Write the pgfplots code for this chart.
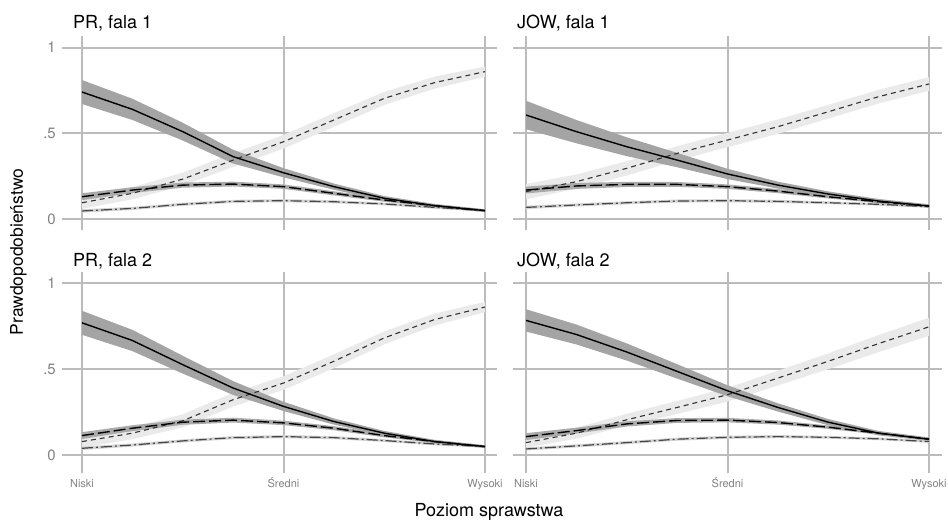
\documentclass[border=0pt]{standalone}
\usepackage{fontspec}
\setmainfont{TeX Gyre Heros}
\usepackage{pgfplots}
\pgfplotsset{compat=1.18}
\usepackage{pgfplotstable}
\usepgfplotslibrary{fillbetween}

\definecolor{gridc}{RGB}{188,188,188}
\definecolor{bandS}{RGB}{164,164,164}
\definecolor{bandD}{RGB}{234,234,234}
\definecolor{bandL}{RGB}{170,170,170}
\definecolor{bandC}{RGB}{212,212,212}
\definecolor{lineD}{RGB}{50,50,50}
\definecolor{lineC}{RGB}{70,70,70}
\definecolor{tickc}{RGB}{130,130,130}

% PR, fala 1
\pgfplotstableread{
x    s    sl   su   d    dl   du   l    ll   lu   c    cl   cu
0    .741 .671 .811 .095 .060 .130 .130 .110 .150 .047 .037 .057
0.25 .640 .578 .702 .150 .115 .185 .169 .152 .186 .062 .053 .071
0.5  .510 .458 .562 .233 .195 .271 .198 .183 .213 .086 .077 .095
0.75 .364 .324 .404 .344 .304 .384 .204 .190 .218 .103 .094 .112
1    .270 .243 .297 .451 .411 .491 .189 .176 .202 .107 .098 .116
1.25 .189 .171 .207 .578 .538 .618 .150 .138 .162 .101 .092 .110
1.5  .121 .108 .134 .704 .666 .742 .111 .101 .121 .088 .080 .096
1.75 .078 .068 .088 .796 .761 .831 .078 .070 .086 .068 .060 .076
2    .049 .041 .057 .860 .830 .890 .049 .042 .056 .049 .042 .056
}\prA
% JOW, fala 1
\pgfplotstableread{
x    s    sl   su   d    dl   du   l    ll   lu   c    cl   cu
0    .607 .524 .690 .160 .115 .205 .169 .149 .189 .068 .058 .078
0.25 .510 .442 .578 .218 .176 .260 .193 .176 .210 .082 .073 .091
0.5  .422 .367 .477 .296 .254 .338 .202 .187 .217 .095 .086 .104
0.75 .344 .302 .386 .383 .341 .425 .202 .188 .216 .105 .096 .114
1    .263 .233 .293 .461 .419 .503 .189 .176 .202 .107 .098 .116
1.25 .198 .178 .218 .539 .497 .581 .163 .151 .175 .103 .094 .112
1.5  .146 .131 .161 .626 .586 .666 .130 .120 .140 .095 .087 .103
1.75 .105 .093 .117 .714 .674 .754 .101 .093 .109 .086 .078 .094
2    .076 .066 .086 .788 .748 .828 .076 .069 .083 .072 .065 .079
}\jowA
% PR, fala 2
\pgfplotstableread{
x    s    sl   su   d    dl   du   l    ll   lu   c    cl   cu
0    .770 .700 .840 .078 .043 .113 .113 .093 .133 .039 .029 .049
0.25 .667 .605 .729 .127 .092 .162 .156 .139 .173 .058 .049 .067
0.5  .526 .474 .578 .199 .161 .237 .191 .176 .206 .082 .073 .091
0.75 .390 .350 .430 .322 .282 .362 .203 .189 .217 .101 .092 .110
1    .283 .256 .310 .419 .379 .459 .187 .174 .200 .107 .098 .116
1.25 .195 .177 .213 .546 .506 .586 .156 .144 .168 .101 .092 .110
1.5  .127 .114 .140 .682 .644 .720 .113 .103 .123 .084 .076 .092
1.75 .078 .068 .088 .789 .754 .824 .078 .070 .086 .064 .056 .072
2    .049 .041 .057 .862 .832 .892 .049 .042 .056 .049 .042 .056
}\prB
% JOW, fala 2
\pgfplotstableread{
x    s    sl   su   d    dl   du   l    ll   lu   c    cl   cu
0    .784 .719 .849 .072 .042 .102 .107 .087 .127 .035 .026 .044
0.25 .702 .644 .760 .127 .095 .159 .142 .125 .159 .053 .044 .062
0.5  .600 .550 .650 .205 .170 .240 .181 .166 .196 .072 .063 .081
0.75 .487 .445 .529 .277 .239 .315 .201 .187 .215 .092 .083 .101
1    .374 .342 .406 .351 .311 .391 .203 .190 .216 .103 .094 .112
1.25 .277 .253 .301 .448 .405 .491 .189 .177 .201 .107 .098 .116
1.5  .191 .173 .209 .546 .500 .592 .162 .152 .172 .103 .095 .111
1.75 .127 .114 .140 .649 .599 .699 .127 .119 .135 .094 .086 .102
2    .092 .082 .102 .747 .694 .800 .092 .085 .099 .078 .071 .085
}\jowB

\newcommand\drawpanel[2]{%
  \addplot[name path=du#2, draw=none] table[x=x,y=du]{#1};
  \addplot[name path=dl#2, draw=none] table[x=x,y=dl]{#1};
  \addplot[bandD, draw=none] fill between[of=du#2 and dl#2];
  \addplot[name path=cu#2, draw=none] table[x=x,y=cu]{#1};
  \addplot[name path=cl#2, draw=none] table[x=x,y=cl]{#1};
  \addplot[bandC, draw=none] fill between[of=cu#2 and cl#2];
  \addplot[name path=lu#2, draw=none] table[x=x,y=lu]{#1};
  \addplot[name path=ll#2, draw=none] table[x=x,y=ll]{#1};
  \addplot[bandL, draw=none] fill between[of=lu#2 and ll#2];
  \addplot[name path=su#2, draw=none] table[x=x,y=su]{#1};
  \addplot[name path=sl#2, draw=none] table[x=x,y=sl]{#1};
  \addplot[bandS, draw=none] fill between[of=su#2 and sl#2];
  \addplot[lineD, line width=1.1pt, dash pattern=on 5pt off 4pt] table[x=x,y=d]{#1};
  \addplot[lineC, line width=1.2pt, dash pattern=on 11pt off 3pt on 2pt off 3pt] table[x=x,y=c]{#1};
  \addplot[black, line width=1.4pt, dash pattern=on 12pt off 4pt] table[x=x,y=l]{#1};
  \addplot[black, line width=1.4pt] table[x=x,y=s]{#1};
}

\pgfplotsset{
  panel/.style={
    scale only axis,
    no markers,
    xtick={0,1,2}, ytick={0,0.5,1},
    grid=major,
    grid style={gridc, line width=2pt},
    axis line style={draw=none},
    major tick length=0pt,
    tick style={draw=none},
    /pgf/number format/assume math mode=true,
    yticklabel style={font=\fontsize{15}{15}\selectfont, text=tickc, inner sep=0pt, xshift=-6pt},
    xticklabel style={font=\fontsize{11}{11}\selectfont, text=tickc, inner sep=0pt, text height=8pt, text depth=0pt, anchor=north, yshift=-6pt},
  },
  leftp/.style={width=435pt, xmin=-0.0993, xmax=2.0596, yticklabels={0,.5,1}},
  rightp/.style={width=429pt, xmin=-0.0645, xmax=2.0645, yticklabels={}},
  topp/.style={height=194pt, ymin=-0.064, ymax=1.068, xticklabels={}},
  botp/.style={height=201pt, ymin=-0.105, ymax=1.066, xticklabels={Niski,Średni,Wysoki}},
}

\begin{document}
\begin{tikzpicture}

\begin{axis}[panel, leftp, topp, at={(62pt,-230pt)}, anchor=south west]
\drawpanel{\prA}{a}
\end{axis}
\begin{axis}[panel, rightp, topp, at={(513pt,-230pt)}, anchor=south west]
\drawpanel{\jowA}{b}
\end{axis}
\begin{axis}[panel, leftp, botp, at={(62pt,-473pt)}, anchor=south west]
\drawpanel{\prB}{c}
\end{axis}
\begin{axis}[panel, rightp, botp, at={(513pt,-473pt)}, anchor=south west]
\drawpanel{\jowB}{d}
\end{axis}

\node[anchor=base west, inner sep=0pt, font=\fontsize{18}{18}\selectfont] at (73pt,-29pt) {PR, fala 1};
\node[anchor=base west, inner sep=0pt, font=\fontsize{18}{18}\selectfont] at (517pt,-29pt) {JOW, fala 1};
\node[anchor=base west, inner sep=0pt, font=\fontsize{18}{18}\selectfont] at (73pt,-266pt) {PR, fala 2};
\node[anchor=base west, inner sep=0pt, font=\fontsize{18}{18}\selectfont] at (517pt,-266pt) {JOW, fala 2};
\node[anchor=base, inner sep=0pt, rotate=90, font=\fontsize{17.5}{17.5}\selectfont] at (23pt,-252pt) {Prawdopodobieństwo};
\node[anchor=base, inner sep=0pt, font=\fontsize{18}{18}\selectfont] at (489pt,-516pt) {Poziom sprawstwa};
\path (0,0) rectangle (948pt,-518pt);
\end{tikzpicture}
\end{document}
